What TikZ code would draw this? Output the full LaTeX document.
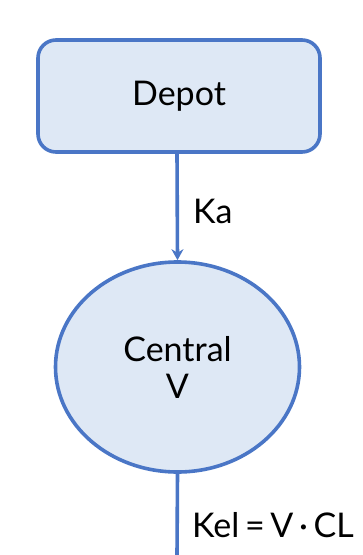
\documentclass[tikz,border=0pt]{standalone}
\usepackage{fontspec}
\setmainfont{Lato}
\usetikzlibrary{arrows.meta,shapes.geometric}
\definecolor{edgeblue}{HTML}{4A76C6}
\definecolor{fillblue}{HTML}{DEE8F5}
\begin{document}
\begin{tikzpicture}[x=1pt,y=-1pt,
  compartment/.style={draw=edgeblue,fill=fillblue,line width=3.6pt},
  lbl/.style={font=\fontsize{34}{37}\selectfont,text=black},
  flow/.style={draw=edgeblue,line width=3.6pt}]
\useasboundingbox (0,0) rectangle (363,555);
\node[compartment,rounded corners=18pt,minimum width=282pt,minimum height=112pt,inner sep=0pt] (depot) at (179,96) {};
\node[lbl] at (depot.center) {Depot};
\node[compartment,ellipse,minimum width=244pt,minimum height=210pt,inner sep=0pt] (central) at (177.5,367) {};
\node[lbl,align=center] at (central.center) {Central\\V};
\coordinate (depotbot) at (177,152);
\draw[flow,-{Stealth[length=11pt,width=12pt]}] (depotbot) -- (central.north);
\coordinate (sink) at (177,556);
\draw[flow] (central.south) -- (sink);
\node[lbl,anchor=west,inner sep=0pt] (ka) at (193,211) {Ka};
\node[lbl,anchor=west,inner sep=0pt] (kel) at (192,525) {Kel\,=\,V\,·\,CL};
\end{tikzpicture}
\end{document}
